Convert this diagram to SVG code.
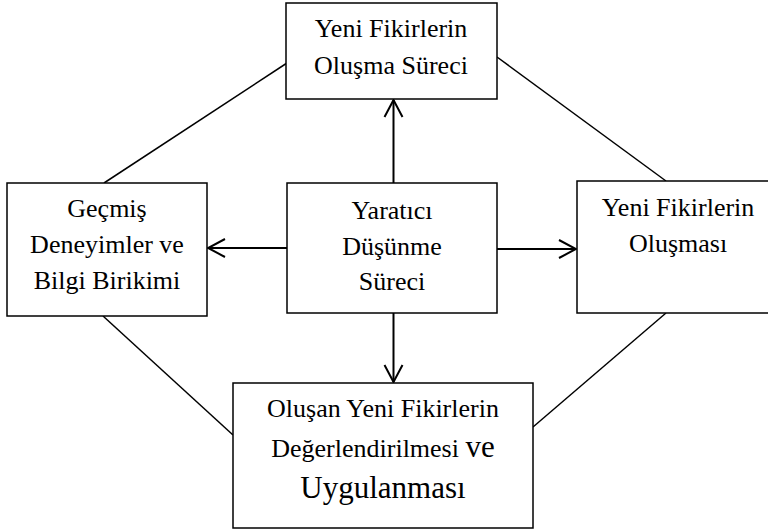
<svg xmlns="http://www.w3.org/2000/svg" width="768" height="531" viewBox="0 0 768 531">
<defs>
<style>
.box{fill:#fff;stroke:#000;stroke-width:1.5}
.t{font-family:"Liberation Serif","Times New Roman",serif;font-size:26px;fill:#000;text-anchor:middle}
.big{font-size:31px}
.ln{stroke:#000;stroke-width:1.5;fill:none}
.ar{stroke:#000;stroke-width:2;fill:none;marker-end:url(#v)}
</style>
<marker id="v" markerUnits="userSpaceOnUse" viewBox="-20 -12 22 24" markerWidth="22" markerHeight="24" refX="0" refY="0" orient="auto">
<path d="M-17,-9 L0,0 L-17,9" fill="none" stroke="#000" stroke-width="2"/>
</marker>
</defs>
<rect width="768" height="531" fill="#fff"/>
<g id="connectors">
<line class="ln" x1="104" y1="183" x2="287" y2="63"/>
<line class="ln" x1="497" y1="57" x2="666" y2="181"/>
<line class="ln" x1="103" y1="316" x2="233" y2="435"/>
<line class="ln" x1="666" y1="313" x2="533" y2="427"/>
<line class="ar" x1="393.5" y1="183" x2="393.5" y2="100"/>
<line class="ar" x1="287" y1="248" x2="208" y2="248"/>
<line class="ar" x1="497" y1="249" x2="576" y2="249"/>
<line class="ar" x1="393.5" y1="313" x2="393.5" y2="382"/>
</g>
<g id="top">
<rect class="box" x="286" y="3" width="211" height="96"/>
<text class="t" x="391" y="37">Yeni Fikirlerin</text>
<text class="t" x="391" y="74">Oluşma Süreci</text>
</g>
<g id="left">
<rect class="box" x="7" y="183" width="200" height="133"/>
<text class="t" x="107" y="217">Geçmiş</text>
<text class="t" x="107" y="253">Deneyimler ve</text>
<text class="t" x="107" y="289">Bilgi Birikimi</text>
</g>
<g id="center">
<rect class="box" x="287" y="183" width="210" height="130"/>
<text class="t" x="392" y="219">Yaratıcı</text>
<text class="t" x="392" y="255">Düşünme</text>
<text class="t" x="392" y="290">Süreci</text>
</g>
<g id="right">
<rect class="box" x="577" y="181" width="200" height="132"/>
<text class="t" x="678" y="216">Yeni Fikirlerin</text>
<text class="t" x="678" y="252">Oluşması</text>
</g>
<g id="bottom">
<rect class="box" x="233" y="383" width="300" height="145"/>
<text class="t" x="383" y="417">Oluşan Yeni Fikirlerin</text>
<text class="t" x="383" y="457">Değerlendirilmesi <tspan class="big">ve</tspan></text>
<text class="t big" x="383" y="498">Uygulanması</text>
</g>
</svg>
